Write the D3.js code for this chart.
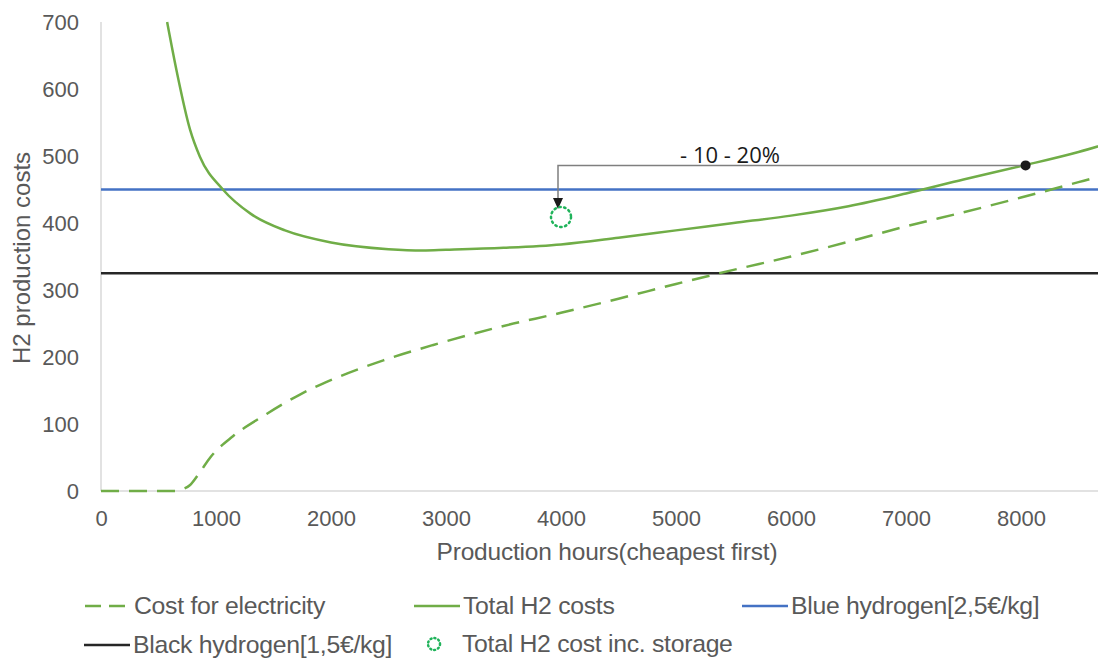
<!DOCTYPE html>
<html>
<head>
<meta charset="utf-8">
<script src="https://cdn.jsdelivr.net/npm/d3@7"></script>
<style>
  html, body { margin: 0; padding: 0; background: #fff; }
  svg { display: block; }
  text { font-family: "Liberation Sans", Arial, sans-serif; }
</style>
</head>
<body>
<svg id="chart" width="1098" height="659"></svg>
<script>
// ---- data ----
const elecHours = [0, 650, 700, 775, 860, 950, 1150, 1440, 1730, 2020, 2455, 2890, 3470, 4000, 4500, 5000, 5500, 6000, 6500, 7000, 7500, 8000, 8500, 8760];
const elecCost  = [0, 0, 2, 9, 28, 50, 82, 115, 144, 167, 195, 218, 245, 266, 287, 309, 330, 350, 372, 395, 416, 438, 461, 473];

const totalHours = [575, 660, 775, 860, 1060, 1300, 1600, 2000, 2500, 2800, 3000, 3500, 4000, 4500, 5000, 5500, 6000, 6500, 7000, 7500, 8000, 8500, 8760];
const totalCost  = [700, 625, 539, 499, 450, 414, 389, 371, 361, 359, 360, 363, 368, 378, 389, 400, 411, 425, 444, 465, 485, 506, 519];

const blueHydrogen  = 450;
const blackHydrogen = 325;

const storagePoint = { hours: 4000, cost: 409 };
const referencePoint = { hours: 8040, cost: 486 };
const annotationLabel = "- 10 - 20%";

const xTicks = [0, 1000, 2000, 3000, 4000, 5000, 6000, 7000, 8000];
const yTicks = [0, 100, 200, 300, 400, 500, 600, 700];

const seriesNames = ["Cost for electricity", "Total H2 costs", "Blue hydrogen[2,5€/kg]", "Black hydrogen[1,5€/kg]", "Total H2 cost inc. storage"];
const xTitle = "Production hours(cheapest first)";
const yTitle = "H2 production costs";

// ---- layout ----
const svg = d3.select("#chart");
const W = 1098;
const x0 = 101, y0 = 491, yTop = 22;
const pxPer1000 = 115;
const x = d3.scaleLinear().domain([0, 8760]).range([x0, x0 + 8.76 * pxPer1000]);
const y = d3.scaleLinear().domain([0, 700]).range([y0, yTop]);

const green = "#70AD47", blue = "#4472C4", black = "#262626", gray = "#595959";

svg.append("defs").append("clipPath").attr("id", "plotclip")
  .append("rect").attr("x", x0).attr("y", yTop - 2).attr("width", W - x0).attr("height", y0 - yTop + 4);

// axes lines
svg.append("line").attr("x1", x0).attr("x2", x0).attr("y1", yTop).attr("y2", y0)
  .attr("stroke", "#d9d9d9").attr("stroke-width", 1.5);
svg.append("line").attr("x1", x0).attr("x2", W).attr("y1", y0).attr("y2", y0)
  .attr("stroke", "#d9d9d9").attr("stroke-width", 1.5);

// tick labels via axes
const yAxis = d3.axisLeft(y).tickValues(yTicks).tickSize(0).tickPadding(22).tickFormat(d3.format("d"));
const gy = svg.append("g").attr("transform", `translate(${x0},0)`).call(yAxis);
gy.select(".domain").remove();
gy.selectAll("text").attr("fill", gray).style("font-size", "22px").style("font-family", "Liberation Sans, Arial, sans-serif");

const xAxis = d3.axisBottom(x).tickValues(xTicks).tickSize(0).tickPadding(19).tickFormat(d3.format("d"));
const gx = svg.append("g").attr("transform", `translate(0,${y0})`).call(xAxis);
gx.select(".domain").remove();
gx.selectAll("text").attr("fill", gray).style("font-size", "22px").style("font-family", "Liberation Sans, Arial, sans-serif");

// axis titles
svg.append("text").attr("x", 607).attr("y", 560).attr("text-anchor", "middle")
  .attr("fill", gray).style("font-size", "24.5px").style("letter-spacing", "-0.2px").text(xTitle);
svg.append("text").attr("transform", "translate(30,258) rotate(-90)").attr("text-anchor", "middle")
  .attr("fill", gray).style("font-size", "24px").text(yTitle);

const plot = svg.append("g").attr("clip-path", "url(#plotclip)");

// horizontal reference lines
plot.append("line").attr("x1", x0).attr("x2", W).attr("y1", y(blueHydrogen)).attr("y2", y(blueHydrogen))
  .attr("stroke", blue).attr("stroke-width", 2.5);
plot.append("line").attr("x1", x0).attr("x2", W).attr("y1", y(blackHydrogen)).attr("y2", y(blackHydrogen))
  .attr("stroke", black).attr("stroke-width", 2.5);

const line = d3.line().curve(d3.curveMonotoneX);

plot.append("path")
  .attr("d", line(elecHours.map((h, i) => [x(h), y(elecCost[i])])))
  .attr("fill", "none").attr("stroke", green).attr("stroke-width", 2.5)
  .attr("stroke-dasharray", "18,10");

plot.append("path")
  .attr("d", line(totalHours.map((h, i) => [x(h), y(totalCost[i])])))
  .attr("fill", "none").attr("stroke", green).attr("stroke-width", 2.5);

// annotation
const rx = x(referencePoint.hours), ry = y(referencePoint.cost);
const sx = x(storagePoint.hours) - 3, sy = y(storagePoint.cost);
svg.append("path")
  .attr("d", `M${rx},${ry} H${sx} V${sy - 17}`)
  .attr("fill", "none").attr("stroke", "#7f7f7f").attr("stroke-width", 1.5);
svg.append("path")
  .attr("d", `M${sx - 5},${sy - 19} L${sx + 5},${sy - 19} L${sx},${sy - 8} Z`)
  .attr("fill", "#1a1a1a");
svg.append("circle").attr("cx", rx).attr("cy", ry).attr("r", 5).attr("fill", "#1a1a1a");
svg.append("circle").attr("cx", x(storagePoint.hours)).attr("cy", y(storagePoint.cost)).attr("r", 10)
  .attr("fill", "none").attr("stroke", "#1fb35a").attr("stroke-width", 2.5)
  .attr("stroke-dasharray", "1.5,3.5").attr("stroke-linecap", "round");
svg.append("text").attr("x", 730).attr("y", 163).attr("text-anchor", "middle")
  .attr("fill", "#1a1a1a").style("font-size", "22px").style("font-family", "Open Sans, sans-serif")
  .text(annotationLabel);

// legend
const legend = svg.append("g");
function legendLine(xs, ye, color, dash, label) {
  legend.append("line").attr("x1", xs).attr("x2", xs + 46).attr("y1", ye).attr("y2", ye)
    .attr("stroke", color).attr("stroke-width", 2.5).attr("stroke-dasharray", dash || null);
  legend.append("text").attr("x", xs + 49).attr("y", ye + 8).attr("fill", gray)
    .style("font-size", "24.8px").style("letter-spacing", "-0.3px").text(label);
}
legendLine(85, 606, green, "16,8", seriesNames[0]);
legendLine(414, 606, green, null, seriesNames[1]);
legendLine(742, 606, blue, null, seriesNames[2]);
legendLine(84, 645, black, null, seriesNames[3]);
legend.append("circle").attr("cx", 434).attr("cy", 644).attr("r", 6)
  .attr("fill", "none").attr("stroke", "#1fb35a").attr("stroke-width", 2.5)
  .attr("stroke-dasharray", "1,3").attr("stroke-linecap", "round");
legend.append("text").attr("x", 462).attr("y", 652).attr("fill", gray)
  .style("font-size", "24.8px").style("letter-spacing", "-0.3px").text(seriesNames[4]);
</script>
</body>
</html>
